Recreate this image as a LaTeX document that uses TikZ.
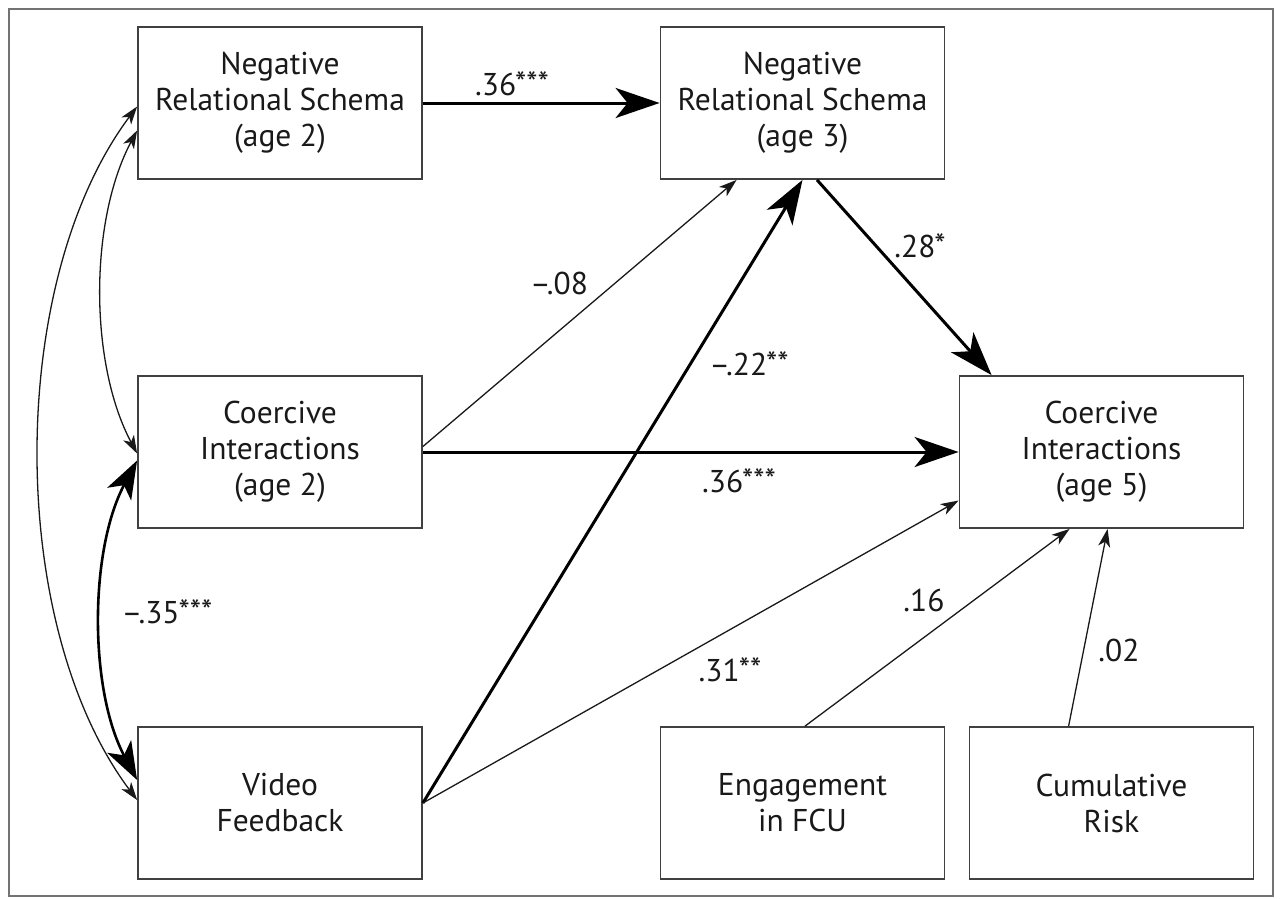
\documentclass[tikz,border=0pt]{standalone}
\usepackage{fontspec}
\setmainfont{PT Sans}
\usetikzlibrary{arrows.meta}
\newcommand{\boxfont}{\fontsize{31.5}{36}\selectfont}
\newcommand{\labfont}{\fontsize{31.5}{36}\selectfont}
\newcommand{\st}[1]{\raisebox{1pt}{\fontsize{32}{32}\selectfont\kern-1pt #1}}
\begin{document}
\begin{tikzpicture}[x=1pt,y=-1pt,
  box/.style={draw=black!75, line width=1.8pt, minimum width=284pt, minimum height=152pt,
    align=center, inner sep=0pt, font=\boxfont, text=black!90},
  thinarr/.style={line width=1.3pt, draw=black!90, -{Stealth[length=18pt,width=12pt,inset=5pt]}},
  thickarr/.style={line width=3pt, draw=black, -{Stealth[length=44pt,width=30pt,inset=12pt]}},
  thincurve/.style={line width=1.3pt, draw=black!90, {Stealth[length=18pt,width=12pt,inset=5pt]}-{Stealth[length=18pt,width=12pt,inset=5pt]}},
  thickcurve/.style={line width=2.6pt, draw=black, {Stealth[length=38pt,width=27pt,inset=10pt]}-{Stealth[length=38pt,width=27pt,inset=10pt]}},
  lab/.style={font=\labfont, inner sep=0pt, text=black!90}]
\useasboundingbox (0,0) rectangle (1280,898);
\draw[draw=black!55, line width=2pt] (9,9) rectangle (1273,896);

\node[box] (nrs2) at (280,103) {Negative\\Relational Schema\\(age 2)};
\node[box] (nrs3) at (802.5,103) {Negative\\Relational Schema\\(age 3)};
\node[box] (ci2) at (280,452) {Coercive\\Interactions\\(age 2)};
\node[box] (ci5) at (1101.5,452) {Coercive\\Interactions\\(age 5)};
\node[box] (vf) at (280,803) {Video\\Feedback};
\node[box] (eng) at (802.5,803) {Engagement\\in FCU};
\node[box] (risk) at (1111.5,803) {Cumulative\\Risk};

% paths
\draw[thickarr] (nrs2.east) -- (nrs3.west);
\draw[thinarr] ([yshift=5.5pt]ci2.east) -- ([xshift=77pt]nrs3.south west);
\draw[thickarr] (vf.east) -- (nrs3.south);
\draw[thickarr] ([xshift=14.5pt]nrs3.south) -- ([xshift=33pt]ci5.north west);
\draw[thickarr] (ci2.east) -- (ci5.west);
\draw[thinarr] (vf.east) -- ([yshift=-48.5pt]ci5.west);
\draw[thinarr] ([xshift=2.5pt]eng.north) -- ([xshift=111pt]ci5.south west);
\draw[thinarr] ([xshift=100pt]risk.north west) -- ([xshift=149pt]ci5.south west);

% correlations
\draw[thincurve] ([yshift=-3.5pt]nrs2.west) .. controls +(-131,175) and +(-131,-175) .. ([yshift=3pt]vf.west);
\draw[thincurve] ([yshift=-27.5pt]nrs2.west) .. controls +(-48,90) and +(-48,-90) .. ([yshift=-1.5pt]ci2.west);
\draw[thickcurve] ([yshift=-8.5pt]ci2.west) .. controls +(-48,90) and +(-48,-90) .. ([yshift=23pt]vf.west);

% labels
\node[lab] (l1) at (512,84) {.36\st{***}};
\node[lab] (l2) at (559,283) {–.08};
\node[lab] (l3) at (749,364) {–.22\st{**}};
\node[lab] (l4) at (920,246) {.28\st{*}};
\node[lab] (l5) at (739,481) {.36\st{***}};
\node[lab] (l6) at (730,670) {.31\st{**}};
\node[lab] (l7) at (924,600) {.16};
\node[lab] (l8) at (1119,650) {.02};
\node[lab] (l9) at (167,612) {–.35\st{***}};
\end{tikzpicture}
\end{document}
